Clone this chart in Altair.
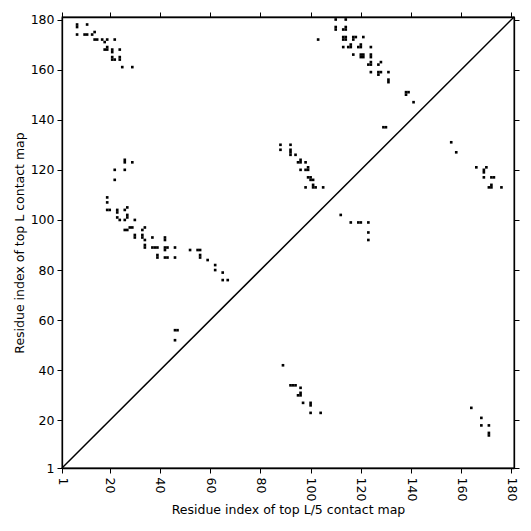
import altair as alt
import pandas as pd

# contact positions (residue i, residue j)
cx = [7, 7, 11, 7, 10, 11, 13, 14, 14, 15, 17, 18, 19, 22, 18, 19, 19, 21, 21, 24, 21, 21, 22, 24, 24, 25, 29,
      26, 26, 29, 22, 26, 22, 19, 19, 19, 20, 23, 23, 26, 27, 23, 24, 27, 27, 26, 30, 26, 27, 28, 29, 33, 34,
      30, 30, 33, 33, 34, 37, 42, 42, 34, 34, 37, 38, 39, 42, 43, 42, 46, 39, 39, 42, 43, 46,
      52, 55, 56, 56, 56, 59, 62, 62, 65, 65, 67,
      88, 92, 88, 92, 92, 92, 94, 96, 96, 95, 98, 96, 98, 99, 99, 99, 100, 100, 101, 98, 101, 102, 101, 105,
      103,
      110, 114, 110, 110, 113, 114, 114, 113, 114, 113, 114, 117, 118, 117, 121, 113, 116, 116, 115, 120, 120,
      119, 124, 117, 120, 121, 120, 121, 124, 124, 123, 124, 124, 127, 128, 124, 127, 128, 127, 131, 131, 131,
      138, 139, 138, 141, 129, 130,
      112, 116, 119, 120, 123, 123, 123,
      156, 158, 166, 170, 169, 169, 169, 172, 173, 172, 172, 171, 176,
      89, 92, 93, 94, 96, 96, 96, 95, 97, 100, 100, 100, 104,
      164, 168, 168, 171, 171, 171,
      46, 47, 46]
cy = [178, 177, 178, 174, 174, 174, 174, 175, 172, 172, 172, 171, 172, 172, 168, 168, 169, 168, 167, 168, 165, 164, 164, 164, 165, 161, 161,
      124, 123, 123, 120, 120, 116, 109, 107, 104, 104, 104, 103, 104, 105, 101, 100, 102, 101, 100, 100, 96, 96, 97, 97, 96, 97,
      93, 94, 94, 93, 92, 93, 92, 93, 90, 89, 89, 89, 89, 89, 89, 88, 89, 86, 85, 85, 85, 85,
      88, 88, 88, 86, 85, 84, 82, 80, 79, 76, 76,
      130, 130, 128, 128, 127, 126, 126, 124, 123, 123, 123, 120, 120, 121, 120, 117, 117, 116, 116, 113, 113, 113, 114, 113,
      172,
      180, 180, 177, 176, 176, 176, 177, 173, 173, 172, 172, 173, 173, 172, 173, 169, 170, 169, 169, 170, 169,
      169, 169, 166, 166, 166, 165, 165, 166, 165, 162, 162, 163, 162, 163, 159, 159, 159, 158, 159, 156, 155,
      151, 151, 150, 147, 137, 137,
      102, 99, 99, 99, 99, 95, 92,
      131, 127, 121, 121, 120, 119, 117, 117, 117, 114, 113, 113, 113,
      42, 34, 34, 34, 33, 31, 30, 30, 27, 27, 26, 23, 23,
      25, 21, 18, 18, 15, 14,
      56, 56, 52]

diag = [1, 181]
tick_vals = [1, 20, 40, 60, 80, 100, 120, 140, 160, 180]
domain = [1, 181]

pts = pd.DataFrame({"i": cx, "j": cy})
dl = pd.DataFrame({"i": diag, "j": diag})

FONT = "DejaVu Sans"
common = dict(values=tick_vals, grid=False, tickSize=5, tickColor="black", tickWidth=1,
              domainColor="black", domainWidth=1.3, labelFont=FONT, labelFontSize=12.5,
              labelColor="black", titleFont=FONT, titleFontSize=12.5, titleColor="black",
              titleFontWeight="normal")

points = alt.Chart(pts).mark_square(size=7, filled=True, color="black", opacity=1, strokeWidth=0).encode(
    x=alt.X("i:Q", scale=alt.Scale(domain=domain, nice=False, zero=False),
            axis=alt.Axis(orient="bottom", labelAngle=90, labelPadding=4, titlePadding=3,
                          title="Residue index of top L/5 contact map", **common)),
    y=alt.Y("j:Q", scale=alt.Scale(domain=domain, nice=False, zero=False),
            axis=alt.Axis(orient="left", labelPadding=3, titlePadding=4,
                          title="Residue index of top L contact map", **common)),
)

line = alt.Chart(dl).mark_line(color="black", strokeWidth=1.5).encode(
    x=alt.X("i:Q", scale=alt.Scale(domain=domain, nice=False, zero=False),
            axis=alt.Axis(orient="top", labels=False, title=None, **common)),
    y=alt.Y("j:Q", scale=alt.Scale(domain=domain, nice=False, zero=False),
            axis=alt.Axis(orient="right", labels=False, title=None, **common)),
)

chart = alt.layer(points, line).resolve_axis(x="independent", y="independent").properties(
    width=452, height=451,
    autosize=alt.AutoSizeParams(type="none"),
    padding={"left": 54, "top": 9, "right": 8, "bottom": 54},
).configure_view(stroke="black", strokeWidth=1.3)

chart.save("out.html", embed_options={"renderer": "svg", "actions": False})
